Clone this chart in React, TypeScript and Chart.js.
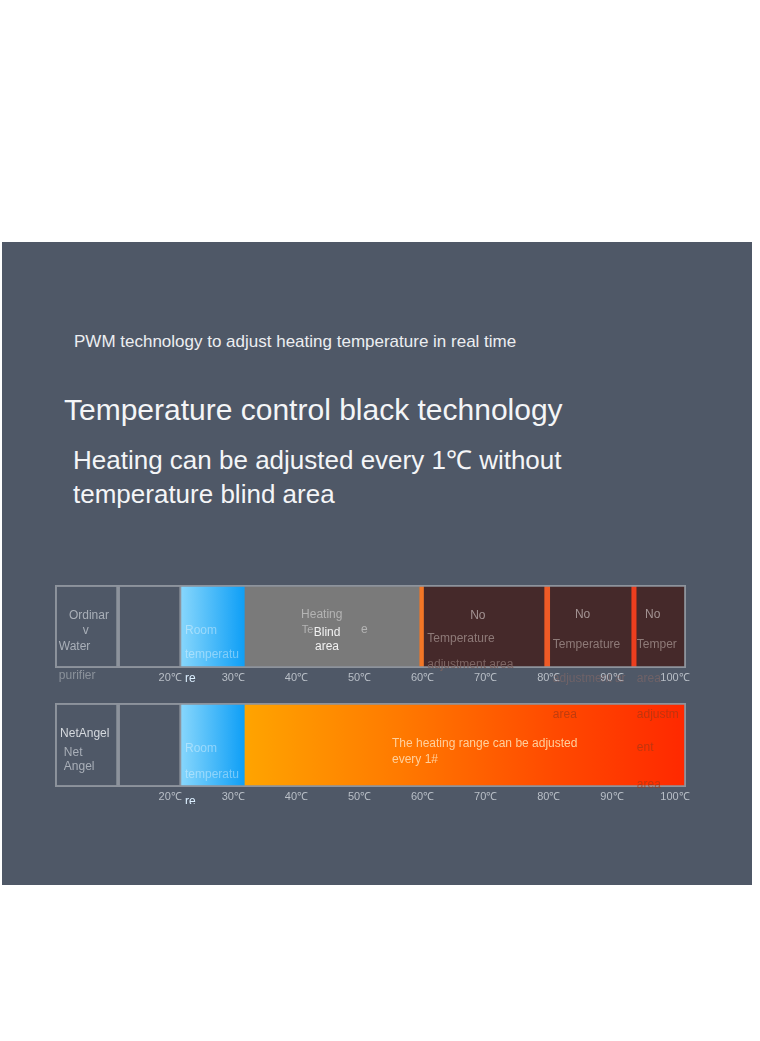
import React, { useEffect, useRef } from "react";
import { Chart, registerables } from "chart.js";

Chart.register(...registerables);

// ---------- data ----------
const rowOrdinary = "Ordinary Water purifier";
const rowNetAngel = "NetAngel";

const tickValues = [20, 30, 40, 50, 60, 70, 80, 90, 100];
const tickLabels = ["20℃", "30℃", "40℃", "50℃", "60℃", "70℃", "80℃", "90℃", "100℃"];

// temperature ranges [start, end] in ℃ (0-20 are the label / blank columns)
const ordinaryRanges: [number, number][] = [
  [0, 10], [10, 20], [20, 30], [30, 57.7], [57.7, 58.4], [58.4, 77.5],
  [77.5, 78.4], [78.4, 91.3], [91.3, 92.1], [92.1, 100],
];
const ordinaryKinds = ["label", "blank", "room", "blind", "edgeA", "none", "edgeB", "none", "edgeC", "none"];

const netAngelRanges: [number, number][] = [[0, 10], [10, 20], [20, 30], [30, 100]];
const netAngelKinds = ["label", "blank", "room", "heat"];

// ---------- styles ----------
const BORDER = "#8d939c";
const FONT = '"Liberation Sans", Arial, sans-serif';

type Stop = [number, string];
const gradients: Record<string, Stop[]> = {
  room: [[0, "#86d6fc"], [1, "#0f9ff6"]],
  heat: [[0, "#ffa400"], [0.35, "#ff7a00"], [0.7, "#ff4a00"], [1, "#ff2800"]],
};
const solids: Record<string, string> = {
  label: "rgba(0,0,0,0)",
  blank: "rgba(0,0,0,0)",
  blind: "#7a7a7a",
  edgeA: "#f27626",
  edgeB: "#ef5a26",
  edgeC: "#ec3e1e",
  none: "#45292a",
};

type Note = { x: number; dy: number; text: string; color: string; size?: number };

const ordinaryNotes: Note[] = [
  { x: 2.2, dy: 31, text: "Ordinar", color: "#a9afb8" },
  { x: 4.4, dy: 46, text: "v", color: "#a9afb8" },
  { x: 0.6, dy: 62, text: "Water", color: "#a9afb8" },
  { x: 0.6, dy: 91, text: "purifier", color: "#8b929b" },
  { x: 20.6, dy: 46, text: "Room", color: "rgba(255,255,255,0.38)" },
  { x: 20.6, dy: 70, text: "temperatu", color: "rgba(255,255,255,0.38)" },
  { x: 20.6, dy: 94, text: "re", color: "#dcefff" },
  { x: 39.0, dy: 30, text: "Heating", color: "#b4b4b4" },
  { x: 39.1, dy: 45, text: "Te", color: "#b4b4b4", size: 11 },
  { x: 41.0, dy: 48, text: "Blind", color: "#f2f2f2" },
  { x: 48.5, dy: 45, text: "e", color: "#b4b4b4" },
  { x: 41.2, dy: 62, text: "area", color: "#f2f2f2" },
  { x: 65.8, dy: 31, text: "No", color: "#a39393" },
  { x: 59.0, dy: 54, text: "Temperature", color: "#8e7a78" },
  { x: 59.0, dy: 80, text: "adjustment area", color: "#7c6462" },
  { x: 82.4, dy: 30, text: "No", color: "#a39393" },
  { x: 78.9, dy: 60, text: "Temperature", color: "#8e7a78" },
  { x: 93.5, dy: 30, text: "No", color: "#a39393" },
  { x: 92.2, dy: 60, text: "Temper", color: "#8e7a78" },
  { x: 78.9, dy: 94, text: "adjustment ar", color: "rgba(150,110,105,0.45)" },
  { x: 92.2, dy: 94, text: "area", color: "rgba(150,110,105,0.45)" },
];

const netAngelNotes: Note[] = [
  { x: 0.8, dy: 31, text: "NetAngel", color: "#d5d9de" },
  { x: 1.4, dy: 50, text: "Net", color: "#a9afb8" },
  { x: 1.4, dy: 64, text: "Angel", color: "#a9afb8" },
  { x: 20.6, dy: 46, text: "Room", color: "rgba(255,255,255,0.38)" },
  { x: 20.6, dy: 72, text: "temperatu", color: "rgba(255,255,255,0.38)" },
  { x: 20.6, dy: 99, text: "re", color: "#dcefff" },
  { x: 53.4, dy: 41, text: "The heating range can be adjusted", color: "#ffd09c" },
  { x: 53.4, dy: 57, text: "every 1#", color: "#ffd09c" },
  { x: 78.9, dy: 12, text: "area", color: "rgba(160,55,20,0.65)" },
  { x: 92.2, dy: 12, text: "adjustm", color: "rgba(160,55,20,0.65)" },
  { x: 92.2, dy: 45, text: "ent", color: "rgba(160,55,20,0.65)" },
  { x: 92.2, dy: 82, text: "area", color: "rgba(160,55,20,0.65)" },
];

function fillFor(kind: string) {
  if (gradients[kind]) {
    const stops = gradients[kind];
    return (ctx: any) => {
      const chart = ctx.chart;
      const xs = chart.scales && chart.scales.x;
      if (!chart.chartArea || !xs) return stops[0][1];
      const r = ctx.dataset.data[0];
      const g = chart.ctx.createLinearGradient(xs.getPixelForValue(r[0]), 0, xs.getPixelForValue(r[1]), 0);
      stops.forEach(([o, c]) => g.addColorStop(o, c));
      return g;
    };
  }
  return solids[kind];
}

function buildConfig(row: string, ranges: [number, number][], kinds: string[], notes: Note[]): any {
  const datasets: any[] = ranges.map((r, i) => ({
    label: kinds[i],
    data: [r],
    backgroundColor: fillFor(kinds[i]),
    borderColor: kinds[i] === "label" || kinds[i] === "blank" ? BORDER : "rgba(0,0,0,0)",
    borderWidth: kinds[i] === "label" || kinds[i] === "blank" ? 1.5 : 0,
    borderSkipped: false,
    grouped: false,
    barPercentage: 1,
    categoryPercentage: 1,
    order: 2,
  }));
  datasets.push({
    label: "outline",
    data: [[0, 100]],
    backgroundColor: "rgba(0,0,0,0)",
    borderColor: BORDER,
    borderWidth: 1.5,
    borderSkipped: false,
    grouped: false,
    barPercentage: 1,
    categoryPercentage: 1,
    order: 1,
  });

  const notesPlugin = {
    id: "notes",
    afterDatasetsDraw(chart: any) {
      const c = chart.ctx;
      const xs = chart.scales.x;
      const top = chart.chartArea.top;
      c.save();
      c.textAlign = "left";
      c.textBaseline = "middle";
      notes.forEach((n) => {
        c.font = `${n.size || 12}px ${FONT}`;
        c.fillStyle = n.color;
        c.fillText(n.text, xs.getPixelForValue(n.x), top + n.dy);
      });
      c.restore();
    },
  };

  return {
    type: "bar",
    data: { labels: [row], datasets },
    plugins: [notesPlugin],
    options: {
      indexAxis: "y",
      animation: false,
      responsive: false,
      events: [],
      layout: { padding: { top: 10, left: 55, right: 74, bottom: 0 } },
      plugins: { legend: { display: false }, tooltip: { enabled: false } },
      scales: {
        y: { display: false },
        x: {
          type: "linear",
          min: 0,
          max: 100,
          grid: { display: false, drawTicks: false },
          border: { display: false },
          afterBuildTicks: (s: any) => {
            s.ticks = tickValues.map((v) => ({ value: v }));
          },
          afterFit: (s: any) => {
            s.height = 17;
          },
          ticks: {
            autoSkip: false,
            maxRotation: 0,
            minRotation: 0,
            padding: 3,
            labelOffset: -11,
            color: "#b9bfc7",
            font: { size: 11, family: FONT },
            callback: (_v: any, i: number) => tickLabels[i],
          },
        },
      },
    },
  };
}

function BarChart({ top, height, config }: { top: number; height: number; config: any }) {
  const ref = useRef<HTMLCanvasElement | null>(null);
  useEffect(() => {
    if (!ref.current) return;
    const chart = new Chart(ref.current, config);
    return () => chart.destroy();
  }, [config]);
  return (
    <canvas
      ref={ref}
      width={760}
      height={height}
      style={{ position: "absolute", left: 0, top, width: 760, height, display: "block" }}
    />
  );
}

const cfgOrdinary = buildConfig(rowOrdinary, ordinaryRanges, ordinaryKinds, ordinaryNotes);
const cfgNetAngel = buildConfig(rowNetAngel, netAngelRanges, netAngelKinds, netAngelNotes);

export default function App() {
  const textBase: React.CSSProperties = {
    position: "absolute",
    fontFamily: FONT,
    whiteSpace: "nowrap",
    margin: 0,
  };
  return (
    <div style={{ position: "fixed", left: 0, top: 0, width: 760, height: 1041, background: "#ffffff", overflow: "hidden" }}>
      <div style={{ position: "absolute", left: 2, top: 242, width: 750, height: 643, background: "#4f5867" }} />
      <div style={{ ...textBase, left: 74, top: 332, fontSize: 17, lineHeight: "20px", color: "#eceef1" }}>
        PWM technology to adjust heating temperature in real time
      </div>
      <div style={{ ...textBase, left: 64, top: 392, fontSize: 30, lineHeight: "36px", color: "#f4f5f7" }}>
        Temperature control black technology
      </div>
      <div style={{ ...textBase, left: 73, top: 443, fontSize: 26, lineHeight: "34px", color: "#f4f5f7" }}>
        Heating can be adjusted every 1℃ without
        <br />
        temperature blind area
      </div>
      <BarChart top={575} height={110} config={cfgOrdinary} />
      <BarChart top={693} height={111} config={cfgNetAngel} />
    </div>
  );
}
